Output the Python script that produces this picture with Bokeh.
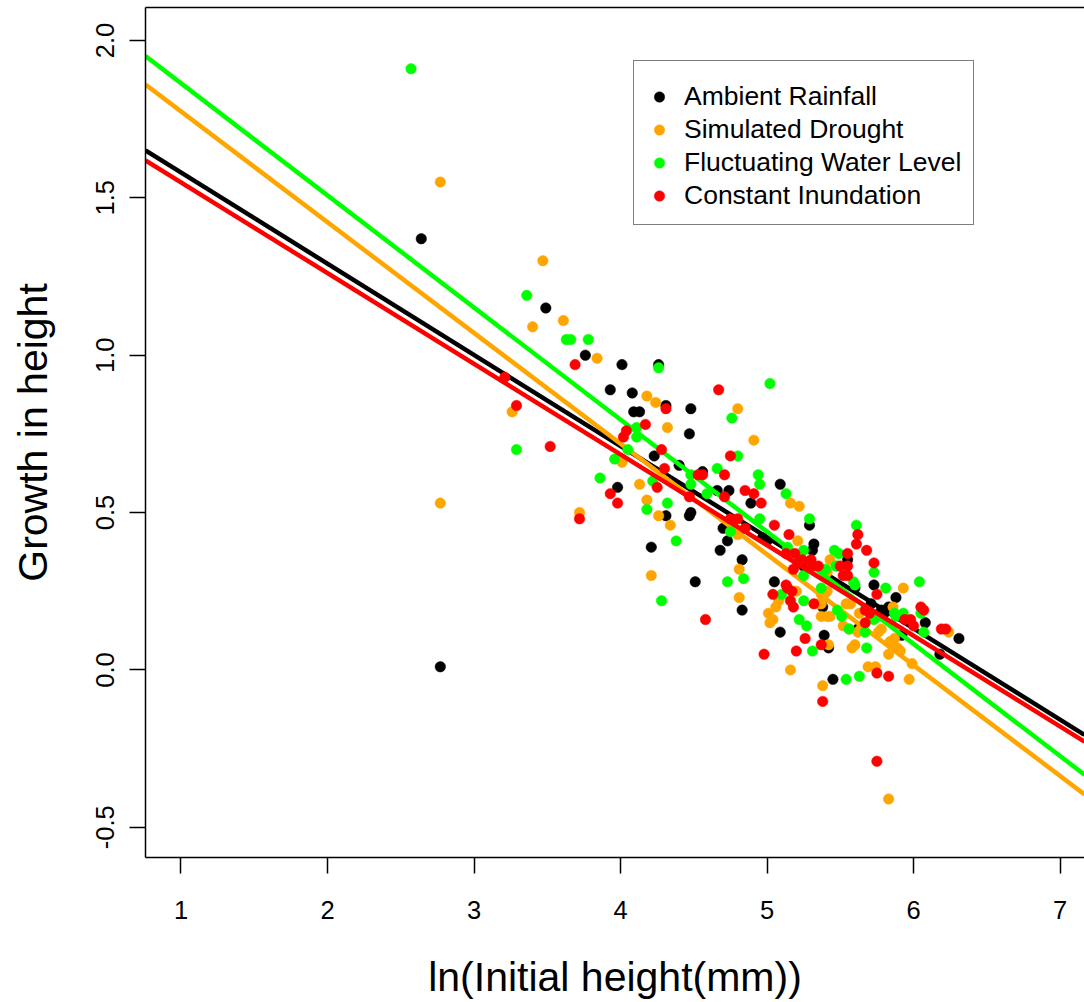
from bokeh.plotting import figure
from bokeh.models import Range1d, FixedTicker, LinearAxis, Legend, LegendItem, PrintfTickFormatter
from bokeh.embed import file_html
from bokeh.resources import INLINE

# ---------------- data ----------------
group_names = ["Ambient Rainfall", "Simulated Drought", "Fluctuating Water Level", "Constant Inundation"]
group_colors = ["#000000", "#FFA500", "#00FF00", "#FF0000"]

black_x = [2.64, 2.77, 3.49, 3.76, 4.01, 4.26, 3.93, 4.08, 4.31, 4.48, 4.09, 4.13, 4.47, 4.23, 4.40, 4.56, 3.98, 4.66, 4.74, 4.89,
           5.09, 5.29, 4.31, 4.48, 4.47, 4.21, 5.32, 5.31, 4.51, 4.83, 4.83, 4.68, 4.73, 4.70, 4.97, 5.00, 5.05, 5.09, 5.39, 5.42,
           5.45, 5.88, 6.08, 6.31, 5.78, 5.80, 5.83, 5.92, 5.55, 5.73, 5.25, 5.37, 5.38, 5.62, 5.60, 5.71, 6.18]
black_y = [1.37, 0.01, 1.15, 1.00, 0.97, 0.97, 0.89, 0.88, 0.84, 0.83, 0.82, 0.82, 0.75, 0.68, 0.65, 0.63, 0.58, 0.57, 0.57, 0.53,
           0.59, 0.46, 0.49, 0.50, 0.49, 0.39, 0.40, 0.38, 0.28, 0.35, 0.19, 0.38, 0.41, 0.45, 0.42, 0.41, 0.28, 0.12, 0.11, 0.07,
           -0.03, 0.23, 0.15, 0.10, 0.19, 0.18, 0.20, 0.11, 0.35, 0.27, 0.33, 0.21, 0.20, 0.13, 0.26, 0.21, 0.05]

orange_x = [2.77, 2.77, 3.47, 3.40, 3.61, 3.84, 4.18, 4.24, 4.32, 3.26, 4.01, 4.13, 3.72, 4.91, 4.80, 4.18, 4.26, 4.34, 4.21, 4.81,
            4.81, 4.80, 5.16, 5.22, 5.21, 5.43, 5.08, 5.06, 5.01, 5.04, 5.02, 5.16, 5.41, 5.37, 5.39, 5.35, 5.37, 5.37, 5.41, 5.43,
            5.54, 5.57, 5.52, 5.56, 5.62, 5.64, 5.63, 5.42, 5.58, 5.60, 5.38, 5.69, 5.74, 5.97, 5.78, 5.76, 5.84, 5.87, 5.89, 5.91,
            5.83, 5.99, 5.93, 5.86, 5.83, 6.24, 5.41, 5.20]
orange_y = [1.55, 0.53, 1.30, 1.09, 1.11, 0.99, 0.87, 0.85, 0.77, 0.82, 0.66, 0.59, 0.50, 0.73, 0.83, 0.54, 0.49, 0.46, 0.30, 0.32,
            0.23, 0.43, 0.53, 0.52, 0.41, 0.35, 0.22, 0.20, 0.18, 0.16, 0.15, 0.00, 0.25, 0.24, 0.24, 0.21, 0.21, 0.17, 0.17, 0.17,
            0.21, 0.21, 0.14, 0.13, 0.12, 0.13, 0.18, 0.08, 0.07, 0.08, -0.05, 0.01, 0.01, -0.03, 0.13, 0.12, 0.09, 0.10, 0.07, 0.06,
            0.05, 0.02, 0.26, 0.20, -0.41, 0.12, 0.31, 0.25]

green_x = [2.57, 3.36, 3.63, 3.66, 3.78, 4.26, 3.29, 4.11, 4.11, 4.05, 3.96, 4.48, 3.86, 4.22, 4.76, 5.02, 4.80, 4.66, 4.94, 4.95,
           5.13, 5.29, 5.61, 5.73, 4.18, 4.32, 4.38, 4.28, 4.73, 4.84, 4.75, 4.95, 5.10, 5.22, 5.27, 5.31, 5.54, 5.63, 5.25, 5.37,
           5.48, 5.51, 5.56, 5.67, 5.68, 5.81, 6.04, 6.07, 5.73, 5.87, 5.88, 5.93, 5.46, 5.49, 5.48, 5.59, 5.60, 5.25, 5.25, 5.14,
           5.40, 5.47, 6.05, 4.59, 4.48]
green_y = [1.91, 1.19, 1.05, 1.05, 1.05, 0.96, 0.70, 0.77, 0.74, 0.70, 0.67, 0.62, 0.61, 0.60, 0.80, 0.91, 0.68, 0.64, 0.62, 0.59,
           0.56, 0.48, 0.46, 0.31, 0.51, 0.53, 0.41, 0.22, 0.28, 0.29, 0.44, 0.48, 0.24, 0.16, 0.14, 0.06, -0.03, -0.02, 0.22, 0.26,
           0.19, 0.17, 0.13, 0.12, 0.07, 0.26, 0.28, 0.12, 0.16, 0.18, 0.17, 0.18, 0.38, 0.37, 0.33, 0.28, 0.27, 0.30, 0.38, 0.39,
           0.32, 0.33, 0.18, 0.56, 0.59]

red_x = [3.21, 3.29, 3.52, 3.69, 4.31, 4.17, 4.02, 4.04, 4.28, 4.30, 4.53, 4.56, 3.93, 3.98, 3.72, 4.67, 4.75, 4.71, 4.85, 4.91,
         4.96, 4.71, 5.05, 5.15, 5.62, 5.61, 5.68, 5.73, 4.47, 4.58, 4.75, 4.80, 4.85, 5.13, 5.14, 5.17, 5.16, 5.18, 5.04, 5.26,
         5.20, 4.98, 5.37, 5.38, 5.75, 5.83, 5.75, 6.05, 5.94, 5.98, 6.00, 6.22, 6.19, 5.70, 5.67, 5.55, 5.55, 5.50, 5.55, 5.35,
         5.31, 5.29, 5.18, 5.21, 5.75, 5.32, 5.24, 5.30, 5.19, 5.13, 5.52, 5.67, 4.25, 6.07]
red_y = [0.93, 0.84, 0.71, 0.97, 0.83, 0.78, 0.74, 0.76, 0.70, 0.64, 0.62, 0.62, 0.56, 0.53, 0.48, 0.89, 0.68, 0.62, 0.57, 0.56,
         0.53, 0.55, 0.46, 0.43, 0.43, 0.40, 0.38, 0.34, 0.55, 0.16, 0.48, 0.48, 0.45, 0.27, 0.26, 0.25, 0.22, 0.20, 0.24, 0.10,
         0.06, 0.05, 0.08, -0.10, -0.01, -0.02, -0.29, 0.20, 0.16, 0.16, 0.14, 0.13, 0.13, 0.18, 0.15, 0.37, 0.33, 0.33, 0.30, 0.33,
         0.33, 0.34, 0.32, 0.34, 0.24, 0.21, 0.35, 0.35, 0.37, 0.37, 0.30, 0.19, 0.58, 0.19]

# fitted regression lines (intercept, slope)
fit_intercepts = [1.870, 2.126, 2.220, 1.837]
fit_slopes = [-0.2897, -0.3518, -0.3562, -0.2881]

x_ticks = [1, 2, 3, 4, 5, 6, 7]
y_ticks = [-0.5, 0.0, 0.5, 1.0, 1.5, 2.0]

X_LO, X_HI = 0.7577, 7.167
Y_LO, Y_HI = -0.596, 2.1046

FONT = "Liberation Sans"

# ---------------- figure ----------------
p = figure(width=1084, height=1002, output_backend="svg", toolbar_location=None,
           x_range=Range1d(X_LO, X_HI), y_range=Range1d(Y_LO, Y_HI),
           min_border_left=145, min_border_right=0, min_border_top=7, min_border_bottom=143)
p.outline_line_color = None
p.xgrid.visible = False
p.ygrid.visible = False
p.background_fill_color = "white"
p.border_fill_color = "white"

# axes
for ax in (p.xaxis[0], p.yaxis[0]):
    ax.axis_line_width = 1.5
    ax.axis_line_color = "black"
    ax.major_tick_line_width = 1.5
    ax.major_tick_line_color = "black"
    ax.major_tick_in = 0
    ax.major_tick_out = 16
    ax.minor_tick_line_color = None
    ax.major_label_text_font = FONT
    ax.major_label_text_font_size = "25.5px"
    ax.major_label_text_color = "black"
    ax.axis_label_text_font = FONT
    ax.axis_label_text_font_size = "41px"
    ax.axis_label_text_font_style = "normal"
    ax.axis_label_text_color = "black"

p.xaxis.ticker = FixedTicker(ticks=x_ticks)
p.xaxis.major_label_standoff = 27
p.xaxis.axis_label = "ln(Initial height(mm))"
p.xaxis.axis_label_standoff = 32

p.yaxis.ticker = FixedTicker(ticks=y_ticks)
p.yaxis.formatter = PrintfTickFormatter(format="%.1f")
p.yaxis.major_label_orientation = "vertical"
p.yaxis.major_label_standoff = 15
p.yaxis.axis_label = "Growth in height"
p.yaxis.axis_label_standoff = 38

top_axis = LinearAxis(ticker=FixedTicker(ticks=[]), axis_line_width=1.5, axis_line_color="black",
                      major_tick_line_color=None, minor_tick_line_color=None,
                      major_label_text_font_size="0px", major_label_standoff=0,
                      major_tick_out=0, major_tick_in=0)
p.add_layout(top_axis, "above")

# groups: points then fitted line
xs = [black_x, orange_x, green_x, red_x]
ys = [black_y, orange_y, green_y, red_y]
items = []
for gx, gy, col, name, a, b in zip(xs, ys, group_colors, group_names, fit_intercepts, fit_slopes):
    r = p.scatter(gx, gy, marker="circle", size=10.5, fill_color=col, line_color=col, line_width=0.5)
    p.line([X_LO, X_HI], [a + b * X_LO, a + b * X_HI], line_color=col, line_width=4.5)
    items.append(LegendItem(label=name, renderers=[r]))

legend = Legend(items=items, location=(488, 632), margin=0, padding=12,
                title=" ", title_text_font_size="4px", title_standoff=2,
                glyph_width=26, glyph_height=33, label_height=33, label_standoff=12, spacing=0,
                label_text_font=FONT, label_text_font_size="26.5px", label_text_color="black",
                border_line_color="black", border_line_width=1.5,
                background_fill_color="white", background_fill_alpha=1.0)
p.add_layout(legend, "center")

open("out.html", "w").write(file_html(p, INLINE))
